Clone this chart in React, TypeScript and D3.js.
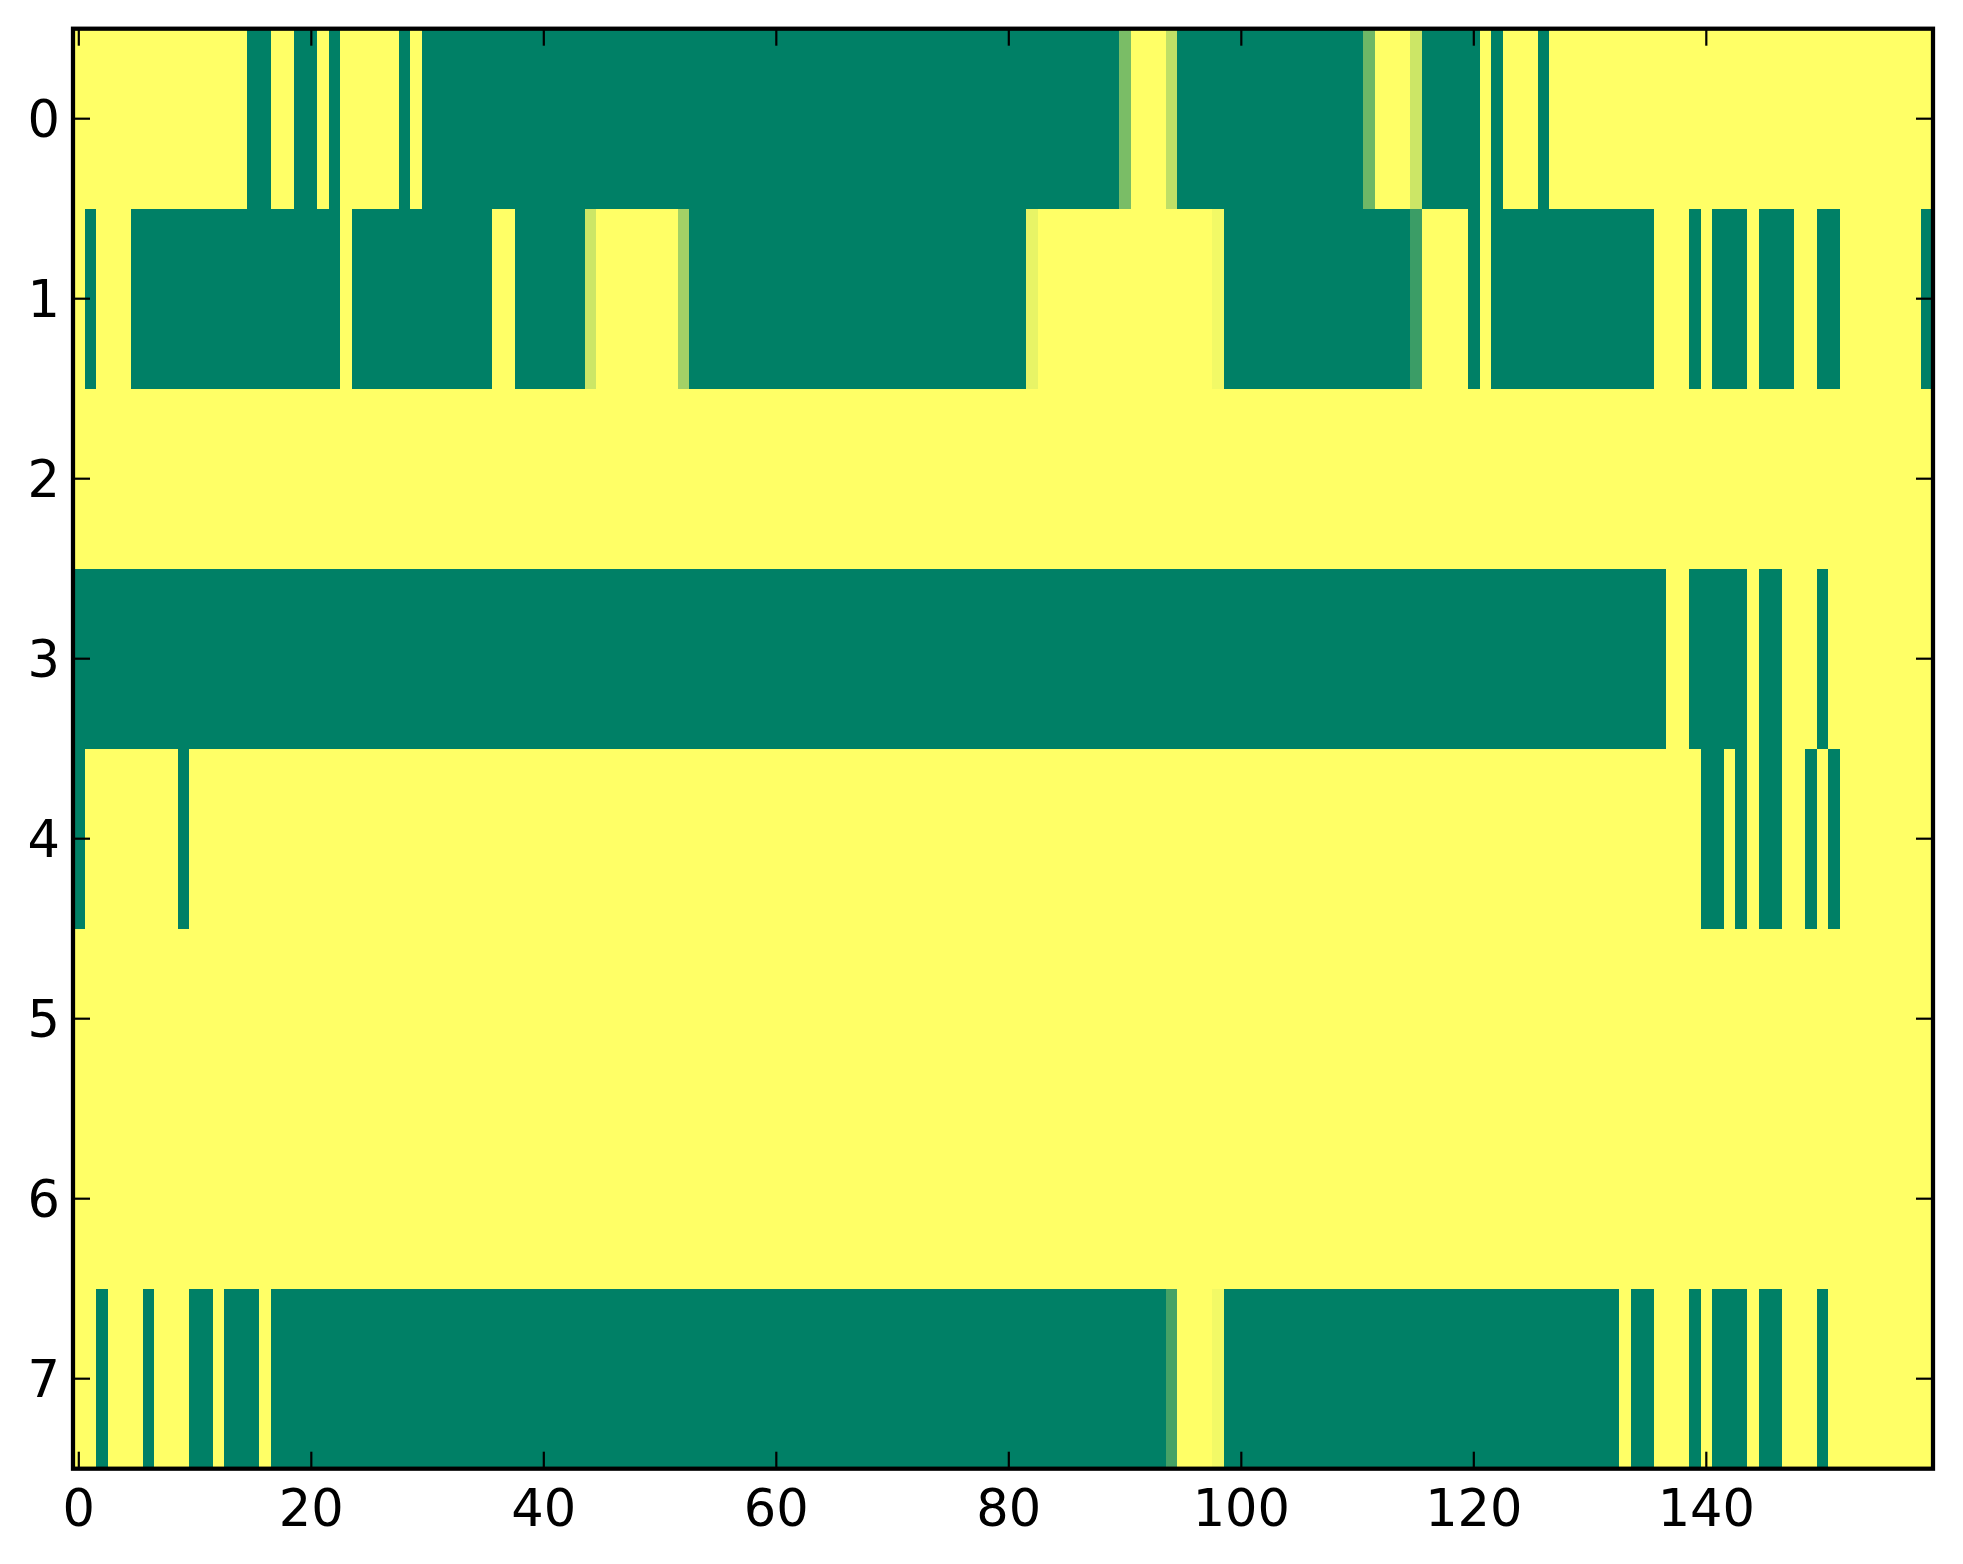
import React from "react";
import * as d3 from "d3";

// Heatmap values (0 = green, 1 = yellow), 8 rows x 160 columns
const row0 = [
  1,1,1,1,1,1,1,1,1,1,1,1,1,1,1,0,0,1,1,0,
  0,1,0,1,1,1,1,1,0,1,0,0,0,0,0,0,0,0,0,0,
  0,0,0,0,0,0,0,0,0,0,0,0,0,0,0,0,0,0,0,0,
  0,0,0,0,0,0,0,0,0,0,0,0,0,0,0,0,0,0,0,0,
  0,0,0,0,0,0,0,0,0,0,0.48,1,1,1,0.75,0,0,0,0,0,
  0,0,0,0,0,0,0,0,0,0,0,0.43,1,1,1,0.8,0,0,0,0,
  0,1,0,1,1,1,0,1,1,1,1,1,1,1,1,1,1,1,1,1,
  1,1,1,1,1,1,1,1,1,1,1,1,1,1,1,1,1,1,1,1,
];
const row1 = [
  1,0,1,1,1,0,0,0,0,0,0,0,0,0,0,0,0,0,0,0,
  0,0,0,1,0,0,0,0,0,0,0,0,0,0,0,0,1,1,0,0,
  0,0,0,0,0.8,1,1,1,1,1,1,1,0.64,0,0,0,0,0,0,0,
  0,0,0,0,0,0,0,0,0,0,0,0,0,0,0,0,0,0,0,0,
  0,0,0.91,1,1,1,1,1,1,1,1,1,1,1,1,1,1,1,0.95,0,
  0,0,0,0,0,0,0,0,0,0,0,0,0,0,0,0.23,1,1,1,1,
  0,1,0,0,0,0,0,0,0,0,0,0,0,0,0,0,1,1,1,0,
  1,0,0,0,1,0,0,0,1,1,0,0,1,1,1,1,1,1,1,0,
];
const row2 = [
  1,1,1,1,1,1,1,1,1,1,1,1,1,1,1,1,1,1,1,1,
  1,1,1,1,1,1,1,1,1,1,1,1,1,1,1,1,1,1,1,1,
  1,1,1,1,1,1,1,1,1,1,1,1,1,1,1,1,1,1,1,1,
  1,1,1,1,1,1,1,1,1,1,1,1,1,1,1,1,1,1,1,1,
  1,1,1,1,1,1,1,1,1,1,1,1,1,1,1,1,1,1,1,1,
  1,1,1,1,1,1,1,1,1,1,1,1,1,1,1,1,1,1,1,1,
  1,1,1,1,1,1,1,1,1,1,1,1,1,1,1,1,1,1,1,1,
  1,1,1,1,1,1,1,1,1,1,1,1,1,1,1,1,1,1,1,1,
];
const row3 = [
  0,0,0,0,0,0,0,0,0,0,0,0,0,0,0,0,0,0,0,0,
  0,0,0,0,0,0,0,0,0,0,0,0,0,0,0,0,0,0,0,0,
  0,0,0,0,0,0,0,0,0,0,0,0,0,0,0,0,0,0,0,0,
  0,0,0,0,0,0,0,0,0,0,0,0,0,0,0,0,0,0,0,0,
  0,0,0,0,0,0,0,0,0,0,0,0,0,0,0,0,0,0,0,0,
  0,0,0,0,0,0,0,0,0,0,0,0,0,0,0,0,0,0,0,0,
  0,0,0,0,0,0,0,0,0,0,0,0,0,0,0,0,0,1,1,0,
  0,0,0,0,1,0,0,1,1,1,0,1,1,1,1,1,1,1,1,1,
];
const row4 = [
  0,1,1,1,1,1,1,1,1,0,1,1,1,1,1,1,1,1,1,1,
  1,1,1,1,1,1,1,1,1,1,1,1,1,1,1,1,1,1,1,1,
  1,1,1,1,1,1,1,1,1,1,1,1,1,1,1,1,1,1,1,1,
  1,1,1,1,1,1,1,1,1,1,1,1,1,1,1,1,1,1,1,1,
  1,1,1,1,1,1,1,1,1,1,1,1,1,1,1,1,1,1,1,1,
  1,1,1,1,1,1,1,1,1,1,1,1,1,1,1,1,1,1,1,1,
  1,1,1,1,1,1,1,1,1,1,1,1,1,1,1,1,1,1,1,1,
  0,0,1,0,1,0,0,1,1,0,1,0,1,1,1,1,1,1,1,1,
];
const row5 = [
  1,1,1,1,1,1,1,1,1,1,1,1,1,1,1,1,1,1,1,1,
  1,1,1,1,1,1,1,1,1,1,1,1,1,1,1,1,1,1,1,1,
  1,1,1,1,1,1,1,1,1,1,1,1,1,1,1,1,1,1,1,1,
  1,1,1,1,1,1,1,1,1,1,1,1,1,1,1,1,1,1,1,1,
  1,1,1,1,1,1,1,1,1,1,1,1,1,1,1,1,1,1,1,1,
  1,1,1,1,1,1,1,1,1,1,1,1,1,1,1,1,1,1,1,1,
  1,1,1,1,1,1,1,1,1,1,1,1,1,1,1,1,1,1,1,1,
  1,1,1,1,1,1,1,1,1,1,1,1,1,1,1,1,1,1,1,1,
];
const row6 = [
  1,1,1,1,1,1,1,1,1,1,1,1,1,1,1,1,1,1,1,1,
  1,1,1,1,1,1,1,1,1,1,1,1,1,1,1,1,1,1,1,1,
  1,1,1,1,1,1,1,1,1,1,1,1,1,1,1,1,1,1,1,1,
  1,1,1,1,1,1,1,1,1,1,1,1,1,1,1,1,1,1,1,1,
  1,1,1,1,1,1,1,1,1,1,1,1,1,1,1,1,1,1,1,1,
  1,1,1,1,1,1,1,1,1,1,1,1,1,1,1,1,1,1,1,1,
  1,1,1,1,1,1,1,1,1,1,1,1,1,1,1,1,1,1,1,1,
  1,1,1,1,1,1,1,1,1,1,1,1,1,1,1,1,1,1,1,1,
];
const row7 = [
  1,1,0,1,1,1,0,1,1,1,0,0,1,0,0,0,1,0,0,0,
  0,0,0,0,0,0,0,0,0,0,0,0,0,0,0,0,0,0,0,0,
  0,0,0,0,0,0,0,0,0,0,0,0,0,0,0,0,0,0,0,0,
  0,0,0,0,0,0,0,0,0,0,0,0,0,0,0,0,0,0,0,0,
  0,0,0,0,0,0,0,0,0,0,0,0,0,0,0.27,1,1,1,0.95,0,
  0,0,0,0,0,0,0,0,0,0,0,0,0,0,0,0,0,0,0,0,
  0,0,0,0,0,0,0,0,0,0,0,0,0,1,0,0,1,1,1,0,
  1,0,0,0,1,0,0,1,1,1,0,1,1,1,1,1,1,1,1,1,
];

const rows = [row0, row1, row2, row3, row4, row5, row6, row7];
const xTicks = [0, 20, 40, 60, 80, 100, 120, 140];
const yTicks = [0, 1, 2, 3, 4, 5, 6, 7];

const W = 1963;
const H = 1564;
const LEFT = 73;
const RIGHT = 1933;
const TOP = 28.7;
const BOTTOM = 1468.7;
const TICK = 17;
const FONT = "'DejaVu Sans', sans-serif";

export default function App() {
  const nCols = rows[0].length;
  const nRows = rows.length;
  const x = d3.scaleLinear().domain([-0.5, nCols - 0.5]).range([LEFT, RIGHT]);
  const y = d3.scaleLinear().domain([-0.5, nRows - 0.5]).range([TOP, BOTTOM]);
  const color = d3
    .scaleLinear<string>()
    .domain([0, 1])
    .range(["#008066", "#ffff66"])
    .interpolate(d3.interpolateRgb);

  const cells: JSX.Element[] = [];
  rows.forEach((row, r) => {
    row.forEach((v, c) => {
      const x0 = x(c - 0.5);
      const x1 = x(c + 0.5);
      const y0 = y(r - 0.5);
      const y1 = y(r + 0.5);
      cells.push(
        <rect
          key={`${r}-${c}`}
          x={x0}
          y={y0}
          width={x1 - x0 + 0.4}
          height={y1 - y0 + 0.4}
          fill={color(v)}
        />
      );
    });
  });

  return (
    <svg
      width={W}
      height={H}
      style={{ position: "absolute", left: 0, top: 0, background: "#fff" }}
    >
      <rect x={0} y={0} width={W} height={H} fill="#fff" />
      <g shapeRendering="crispEdges">{cells}</g>
      {/* ticks */}
      <g stroke="#000" strokeWidth={2.2}>
        {xTicks.map((t) => (
          <g key={`xt${t}`}>
            <line x1={x(t)} x2={x(t)} y1={BOTTOM} y2={BOTTOM - TICK} />
            <line x1={x(t)} x2={x(t)} y1={TOP} y2={TOP + TICK} />
          </g>
        ))}
        {yTicks.map((t) => (
          <g key={`yt${t}`}>
            <line x1={LEFT} x2={LEFT + TICK} y1={y(t)} y2={y(t)} />
            <line x1={RIGHT} x2={RIGHT - TICK} y1={y(t)} y2={y(t)} />
          </g>
        ))}
      </g>
      {/* frame */}
      <rect
        x={LEFT}
        y={TOP}
        width={RIGHT - LEFT}
        height={BOTTOM - TOP}
        fill="none"
        stroke="#000"
        strokeWidth={4.25}
      />
      {/* tick labels */}
      <g fontFamily={FONT} fontSize={51} fill="#000">
        {xTicks.map((t) => (
          <text key={`xl${t}`} x={x(t)} y={BOTTOM + 57.5} textAnchor="middle">
            {t}
          </text>
        ))}
        {yTicks.map((t) => (
          <text key={`yl${t}`} x={LEFT - 13} y={y(t) + 18} textAnchor="end">
            {t}
          </text>
        ))}
      </g>
    </svg>
  );
}
